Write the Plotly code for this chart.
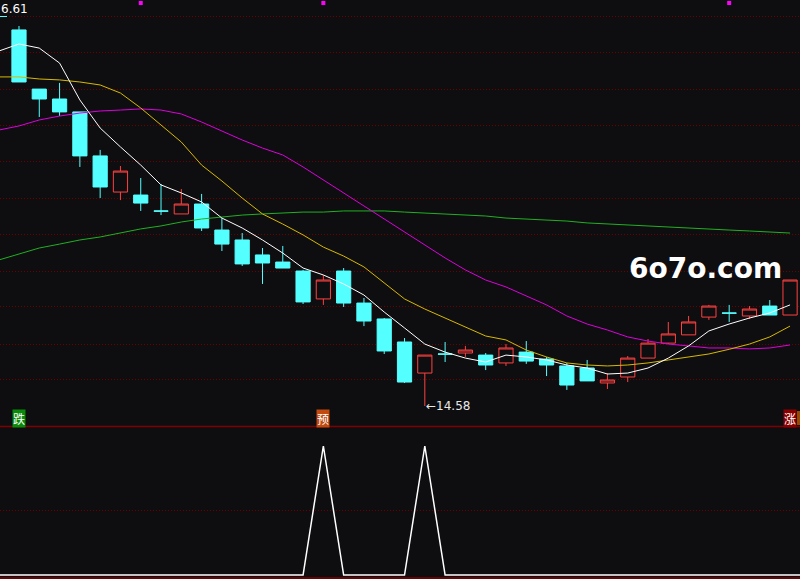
import plotly.graph_objects as go

# ---------------- data ----------------
bars = list(range(39))
opens = [16.589, 16.273, 16.220, 16.151, 15.916, 15.723, 15.707, 15.622, 15.606, 15.659,
         15.520, 15.467, 15.387, 15.349, 15.301, 15.152, 15.301, 15.130, 15.045, 14.922,
         14.756, 14.858, 14.863, 14.852, 14.810, 14.868, 14.831, 14.794, 14.783, 14.703,
         14.735, 14.836, 14.916, 14.960, 15.055, 15.077, 15.061, 15.114, 15.066]
highs = [16.610, 16.273, 16.306, 16.151, 15.948, 15.862, 15.798, 15.766, 15.739, 15.713,
         15.584, 15.504, 15.424, 15.435, 15.307, 15.280, 15.317, 15.157, 15.050, 14.943,
         14.852, 14.922, 14.901, 14.863, 14.911, 14.927, 14.842, 14.810, 14.826, 14.756,
         14.847, 14.938, 15.029, 15.061, 15.120, 15.120, 15.114, 15.146, 15.253]
lows = [16.311, 16.124, 16.129, 15.857, 15.691, 15.680, 15.622, 15.600, 15.606, 15.515,
        15.408, 15.328, 15.232, 15.317, 15.125, 15.120, 15.109, 15.007, 14.858, 14.703,
        14.580, 14.815, 14.842, 14.772, 14.794, 14.805, 14.740, 14.666, 14.714, 14.671,
        14.708, 14.836, 14.911, 14.960, 15.040, 15.029, 15.045, 15.066, 15.066]
closes = [16.311, 16.220, 16.151, 15.916, 15.750, 15.835, 15.664, 15.621, 15.659, 15.531,
          15.445, 15.339, 15.344, 15.317, 15.136, 15.253, 15.130, 15.034, 14.874, 14.708,
          14.852, 14.857, 14.879, 14.799, 14.890, 14.820, 14.799, 14.692, 14.714, 14.719,
          14.836, 14.916, 14.965, 15.029, 15.114, 15.076, 15.098, 15.066, 15.253]

ma_bars = list(range(-1, 39))
ma5 = [16.476, 16.514, 16.492, 16.412, 16.215, 16.065, 15.964, 15.867, 15.761, 15.718,
       15.670, 15.584, 15.531, 15.467, 15.397, 15.317, 15.280, 15.232, 15.173, 15.082,
       14.997, 14.911, 14.868, 14.836, 14.815, 14.852, 14.842, 14.826, 14.799, 14.783,
       14.751, 14.756, 14.783, 14.836, 14.901, 14.981, 15.018, 15.050, 15.077, 15.120]
ma10 = [16.338, 16.338, 16.327, 16.322, 16.311, 16.295, 16.252, 16.172, 16.081, 15.990,
        15.867, 15.782, 15.691, 15.606, 15.552, 15.494, 15.429, 15.381, 15.323, 15.237,
        15.152, 15.098, 15.050, 15.002, 14.954, 14.933, 14.879, 14.842, 14.810, 14.799,
        14.794, 14.799, 14.810, 14.826, 14.842, 14.858, 14.883, 14.911, 14.949, 15.007]
ma20 = [16.054, 16.076, 16.108, 16.129, 16.145, 16.156, 16.161, 16.167, 16.161, 16.140,
        16.097, 16.049, 16.001, 15.958, 15.921, 15.857, 15.787, 15.718, 15.648, 15.579,
        15.510, 15.440, 15.371, 15.307, 15.253, 15.216, 15.168, 15.120, 15.061, 15.018,
        14.986, 14.949, 14.927, 14.911, 14.901, 14.890, 14.890, 14.885, 14.890, 14.906]
ma60 = [15.360, 15.392, 15.424, 15.445, 15.467, 15.483, 15.504, 15.526, 15.542, 15.563,
        15.579, 15.590, 15.600, 15.606, 15.611, 15.616, 15.616, 15.622, 15.622, 15.622,
        15.616, 15.611, 15.606, 15.600, 15.595, 15.584, 15.579, 15.574, 15.568, 15.558,
        15.552, 15.547, 15.542, 15.536, 15.531, 15.526, 15.520, 15.515, 15.510, 15.504]

sig_bars = list(range(-1, 40))
signal = [0, 0, 0, 0, 0, 0, 0, 0, 0, 0, 0, 0, 0, 0, 0, 0, 1, 0, 0, 0, 0,
          1, 0, 0, 0, 0, 0, 0, 0, 0, 0, 0, 0, 0, 0, 0, 0, 0, 0, 0, 0]

grid_levels = [16.663, 16.466, 16.273, 16.081, 15.884, 15.691, 15.494, 15.301, 15.109, 14.911, 14.719]
sig_grid = [0.5]

mark_bars = [6, 15, 35]
low_bar = 20
low_value = 14.58
high_text = "6.61"
label_bars = [0, 15, 38]
label_texts = ["跌", "预", "涨"]
label_bg = ["#0a8a0a", "#c04a10", "#8a0000"]

# ---------------- style ----------------
BG = "#0e0e11"
CYAN = "#54ffff"
RED = "#ff4040"
W, H = 800, 579

def py(pix):  # pixel row -> paper y
    return (H - pix) / H

xr = [-0.936, 38.49]

fig = go.Figure()

up = [i for i in bars if closes[i] > opens[i]]
dn = [i for i in bars if closes[i] <= opens[i]]

def cs(idx, line, fill, name):
    return go.Candlestick(
        x=[bars[i] for i in idx], open=[opens[i] for i in idx], high=[highs[i] for i in idx],
        low=[lows[i] for i in idx], close=[closes[i] for i in idx],
        increasing=dict(line=dict(color=line, width=1), fillcolor=fill),
        decreasing=dict(line=dict(color=line, width=1), fillcolor=fill),
        whiskerwidth=0, name=name, showlegend=False, xaxis="x", yaxis="y")

fig.add_trace(cs(dn, CYAN, CYAN, "down"))
fig.add_trace(cs(up, RED, BG, "up"))

for vals, col in [(ma60, "#20b020"), (ma20, "#dd00dd"), (ma10, "#d8b800"), (ma5, "#ffffff")]:
    fig.add_trace(go.Scatter(x=ma_bars, y=vals, mode="lines", line=dict(color=col, width=1),
                             showlegend=False, xaxis="x", yaxis="y", hoverinfo="skip"))

fig.add_trace(go.Scatter(x=mark_bars, y=[0.5] * len(mark_bars), mode="markers",
                         marker=dict(symbol="square", size=4, color="#ff00ff"),
                         showlegend=False, xaxis="x", yaxis="y3", hoverinfo="skip"))

fig.add_trace(go.Scatter(x=sig_bars, y=signal, mode="lines", line=dict(color="#ffffff", width=1.5),
                         showlegend=False, xaxis="x2", yaxis="y2", hoverinfo="skip"))

ann = []
ann.append(dict(x=low_bar, y=low_value, xref="x", yref="y", text="←" + f"{low_value:.2f}",
                showarrow=False, xanchor="left", yanchor="middle", xshift=-1,
                font=dict(color="#e8e8e8", size=12, family="DejaVu Sans")))
ann.append(dict(x=0, y=py(9), xref="paper", yref="paper", text=high_text, showarrow=False,
                xanchor="left", yanchor="middle", xshift=-1,
                font=dict(color="#ffffff", size=12, family="DejaVu Sans")))
for b, t, c in zip(label_bars, label_texts, label_bg):
    ann.append(dict(x=b, y=py(418), xref="x", yref="paper", text=t, showarrow=False,
                    xanchor="center", yanchor="middle", bgcolor=c, borderpad=0,
                    font=dict(color="#ffffff", size=12, family="Noto Sans CJK SC")))
ann.append(dict(x=705 / W, y=py(268), xref="paper", yref="paper", text="<b>6o7o.com</b>",
                showarrow=False, xanchor="center", yanchor="middle",
                font=dict(color="#ffffff", size=28, family="DejaVu Sans")))

shapes = [
    dict(type="line", xref="paper", yref="paper", x0=0, x1=1, y0=py(426.5), y1=py(426.5),
         line=dict(color="#800000", width=1.5)),
    dict(type="line", xref="paper", yref="paper", x0=0, x1=1, y0=py(578), y1=py(578),
         line=dict(color="#800000", width=1.5)),
    dict(type="line", xref="paper", yref="paper", x0=0, x1=7 / W, y0=py(16.5), y1=py(16.5),
         line=dict(color=CYAN, width=1)),
    dict(type="rect", xref="paper", yref="paper", x0=797 / W, x1=1, y0=py(425), y1=py(411),
         line=dict(width=0), fillcolor="#9a4a00"),
]

fig.update_layout(
    width=W, height=H, margin=dict(l=0, r=0, t=0, b=0),
    paper_bgcolor=BG, plot_bgcolor=BG, showlegend=False,
    boxgap=0.3, boxgroupgap=0,
    xaxis=dict(range=xr, domain=[0, 1], visible=False, rangeslider=dict(visible=False), anchor="y"),
    xaxis2=dict(range=xr, domain=[0, 1], visible=False, anchor="y2", matches="x"),
    yaxis=dict(domain=[py(426), 1], range=[14.4732, 16.7489], tickvals=grid_levels,
               showticklabels=False, showgrid=True, gridcolor="#700000", griddash="1px,2px",
               gridwidth=1, zeroline=False, showline=False, ticks=""),
    yaxis2=dict(domain=[0, py(430)], range=[-0.031, 1.124], tickvals=sig_grid,
                showticklabels=False, showgrid=True, gridcolor="#700000", griddash="1px,2px",
                gridwidth=1, zeroline=False, showline=False, ticks=""),
    yaxis3=dict(domain=[py(6), 1], range=[0, 1], visible=False, anchor="x"),
    annotations=ann, shapes=shapes,
)

fig.write_html("out.html", config={"displayModeBar": False},
               post_script="document.body.style.margin='0';document.body.style.overflow='hidden';"
                           "document.body.style.background='#0e0e11';")
